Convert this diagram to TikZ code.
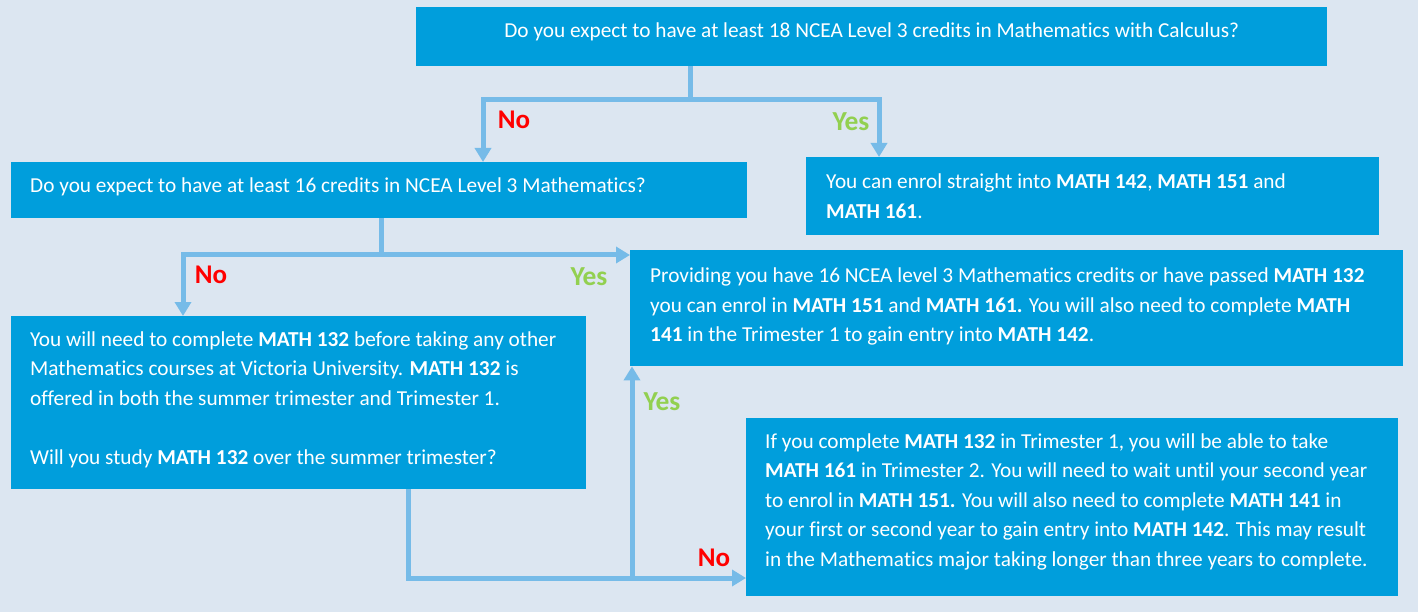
\documentclass[tikz,border=0pt]{standalone}
\usepackage{fontspec}
\setmainfont{Carlito}[Ligatures=NoCommon]
\usetikzlibrary{arrows.meta}
\definecolor{bgblue}{RGB}{220,230,241}
\definecolor{boxblue}{RGB}{0,158,220}
\definecolor{linkblue}{RGB}{118,187,232}
\definecolor{noRed}{RGB}{255,0,0}
\definecolor{yesGreen}{RGB}{146,208,80}
\tikzset{
  box/.style={fill=boxblue, draw=none, anchor=north west, inner sep=0pt},
  txt/.style={text=white, align=left, inner sep=0pt, anchor=west,
    font=\fontsize{21.3}{29.6}\selectfont},
  link/.style={draw=linkblue, line width=5pt},
  tip/.style={-{Triangle[width=16pt,length=14pt]}},
  nolab/.style={text=noRed, font=\fontsize{27}{30}\selectfont\bfseries, inner sep=0pt},
  yeslab/.style={text=yesGreen, font=\fontsize{27.5}{30}\selectfont\bfseries, inner sep=0pt},
}
\begin{document}
\begin{tikzpicture}[x=1pt,y=-1pt]
\fill[bgblue] (0,0) rectangle (1418,612);
\useasboundingbox (0,0) rectangle (1418,612);

% boxes
\node[box, minimum width=911pt, minimum height=59pt] (q1) at (416,7) {};
\node[box, minimum width=736pt, minimum height=56pt] (q2) at (11,162) {};
\node[box, minimum width=573pt, minimum height=78pt] (a1) at (806,157) {};
\node[box, minimum width=773pt, minimum height=116pt] (a2) at (630,250) {};
\node[box, minimum width=575pt, minimum height=173pt] (q3) at (11,316) {};
\node[box, minimum width=652pt, minimum height=178pt] (a3) at (746,418) {};

% texts
\node[txt, anchor=center] (q1t) at ([yshift=5pt]q1.center)
  {Do you expect to have at least 18 NCEA Level 3 credits in Mathematics with Calculus?};
\node[txt] (q2t) at ([xshift=19pt,yshift=3pt]q2.west)
  {Do you expect to have at least 16 credits in NCEA Level 3 Mathematics?};
\node[txt] (a1t) at ([xshift=20pt,yshift=0pt]a1.west)
  {You can enrol straight into \textbf{MATH 142}, \textbf{MATH 151} and\\
   \textbf{MATH 161}.};
\node[txt] (a2t) at ([xshift=20pt,yshift=1.5pt]a2.west)
  {Providing you have 16 NCEA level 3 Mathematics credits or have passed \textbf{MATH 132}\\
   you can enrol in \textbf{MATH 151} and \textbf{MATH 161.} You will also need to complete \textbf{MATH}\\
   \textbf{141} in the Trimester 1 to gain entry into \textbf{MATH 142}.};
\node[txt] (q3t) at ([xshift=19pt,yshift=3pt]q3.west)
  {You will need to complete \textbf{MATH 132} before taking any other\\
   Mathematics courses at Victoria University. \textbf{MATH 132} is\\
   offered in both the summer trimester and Trimester 1.\\[29.6pt]
   Will you study \textbf{MATH 132} over the summer trimester?};
\node[txt] (a3t) at ([xshift=19pt,yshift=5.5pt]a3.west)
  {If you complete \textbf{MATH 132} in Trimester 1, you will be able to take\\
   \textbf{MATH 161} in Trimester 2. You will need to wait until your second year\\
   to enrol in \textbf{MATH 151.} You will also need to complete \textbf{MATH 141} in\\
   your first or second year to gain entry into \textbf{MATH 142}. This may result\\
   in the Mathematics major taking longer than three years to complete.};

% junction points of the connectors
\coordinate (j1) at (690,100);
\coordinate (j1l) at (483,100);
\coordinate (j1r) at (879,100);
\coordinate (j2) at (381,255);
\coordinate (j2l) at (183,255);
\coordinate (j3) at (408,578);
\coordinate (j3m) at (632,578);

% connectors
\draw[link] (q1.south -| j1) -- (j1);
\draw[link, tip] (j1) -- (j1l) -- (q2.north -| j1l);
\draw[link, tip] (j1) -- (j1r) -- (a1.north -| j1r);
\draw[link] (q2.south -| j2) -- (j2);
\draw[link, tip] (j2) -- (j2l) -- (q3.north -| j2l);
\draw[link, tip] (j2) -- (a2.west |- j2);
\draw[link] (q3.south -| j3) -- (j3) -- (j3m);
\draw[link, tip] (j3m) -- (a2.south -| j3m);
\draw[link, tip] (j3m) -- (a3.west |- j3m);

% branch labels
\node[nolab] (l1) at (514,120) {No};
\node[yeslab] (l2) at (851,122) {Yes};
\node[nolab] (l3) at (211,275) {No};
\node[yeslab] (l4) at (589,277) {Yes};
\node[yeslab] (l5) at (662,402) {Yes};
\node[nolab] (l6) at (714,558) {No};
\end{tikzpicture}
\end{document}
